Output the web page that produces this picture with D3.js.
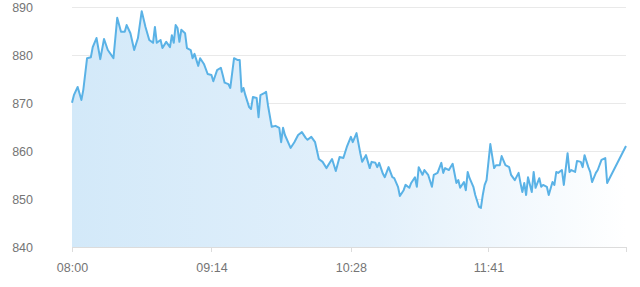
<!DOCTYPE html>
<html lang="en">
<head>
	<meta charset="UTF-8">
	<title>Intraday</title>
	<style>
		body { margin: 0; background: #fff; }
		.Axis text {
			font-family: "Liberation Sans", Arial, sans-serif;
			font-size: 12.5px;
			fill: #757575;
		}
		.Axis.y path { display: none; }
		.Axis.y line { stroke: #e9e9e9; shape-rendering: crispEdges; }
		.Axis.x path, .Axis.x line { stroke: #dcdcdc; shape-rendering: crispEdges; }
	</style>
	<script src="https://d3js.org/d3.v7.min.js"></script>
</head>
<body>
	<script type="text/javascript">

		// minutes after 08:00
		var minutes = [0, 1, 3, 5, 6, 8, 10, 11, 13, 15, 17, 19, 22, 24, 26, 28, 29, 31, 33, 35,
			37, 39, 41, 43, 44, 45, 47, 48, 50, 52, 53, 54, 55, 56, 57, 58, 60, 61, 63, 64,
			65, 67, 68, 70, 72, 74, 75, 77, 79, 80, 81, 83, 84, 86, 88, 89, 90, 91, 92, 94,
			95, 96, 98, 99, 100, 102, 103, 104, 106, 108, 110, 111, 112, 113, 116, 118, 120, 122, 124, 125,
			127, 129, 131, 133, 135, 138, 140, 142, 144, 146, 148, 149, 151, 153, 154, 156, 158, 159, 161, 162,
			163, 165, 166, 168, 170, 171, 173, 174, 176, 177, 179, 180, 182, 183, 184, 186, 187, 189, 191, 192,
			194, 196, 197, 198, 200, 202, 204, 205, 206, 208, 209, 210, 211, 213, 214, 216, 217, 218, 219, 220,
			222, 224, 225, 227, 228, 230, 232, 233, 235, 237, 238, 239, 240, 241, 242, 244, 245, 246, 248, 249,
			250, 252, 253, 255, 256, 257, 258, 260, 261, 263, 264, 265, 267, 268, 270, 271, 272, 274, 275, 276,
			278, 279, 281, 283, 284, 294];

		var prices = [870.1, 871.7, 873.4, 870.7, 872.8, 879.4, 879.6, 881.7, 883.6, 879.2, 883.4, 881.1, 879.4, 887.8, 884.9, 884.9, 886.3, 884.6, 881.1, 883.6,
			889.2, 885.9, 883.2, 882.6, 885.9, 882.6, 883.2, 881.5, 882.8, 881.7, 884.2, 882.6, 886.3, 885.7, 882.8, 885.3, 884.6, 881.5, 881.1, 879.4,
			880.3, 877.8, 879.4, 878.2, 876.1, 875.9, 874.6, 876.9, 877.4, 875.9, 874.3, 874.0, 873.2, 879.4, 879.0, 879.0, 872.4, 873.2, 871.7, 869.2,
			868.8, 871.3, 871.1, 867.1, 871.7, 872.1, 872.4, 869.6, 865.1, 865.3, 864.9, 861.9, 864.9, 863.4, 860.7, 861.9, 863.4, 864.0, 862.8, 862.4,
			863.0, 861.9, 858.4, 857.8, 856.5, 858.4, 855.9, 858.8, 858.6, 861.1, 863.0, 861.9, 863.8, 859.6, 857.8, 859.2, 856.5, 857.8, 857.6, 856.7,
			857.6, 855.3, 854.6, 856.7, 854.6, 854.4, 852.6, 850.7, 851.9, 853.0, 852.4, 853.4, 854.6, 852.6, 856.7, 855.1, 856.1, 855.1, 852.6, 855.1,
			855.5, 857.6, 855.5, 856.5, 856.1, 857.4, 853.4, 854.0, 852.4, 853.6, 851.9, 855.7, 854.4, 852.6, 850.9, 848.4, 848.2, 850.9, 853.0, 854.0,
			861.5, 856.5, 857.1, 857.1, 859.0, 857.1, 856.7, 855.1, 854.0, 855.5, 853.4, 851.5, 853.4, 850.9, 854.6, 851.5, 855.7, 852.4, 854.4, 852.6,
			853.0, 852.6, 850.9, 853.6, 853.0, 855.7, 855.5, 856.1, 853.0, 859.6, 855.7, 856.1, 855.7, 858.0, 857.8, 856.7, 859.2, 856.7, 855.7, 853.6,
			855.5, 856.1, 858.2, 858.6, 853.4, 861.1];

		var tickMinutes = [0, 74, 148, 221, 294];
		var tickLabels = ["08:00", "09:14", "10:28", "11:41", ""];
		var yTicks = [840, 850, 860, 870, 880, 890];

		var data = minutes.map((m, i) => [m, prices[i]]);

		const w = 640,
			  h = 287;

		const svg = d3.select("body")
			.append("svg")
			.attr("width", w)
			.attr("height", h)

		var xScale = d3.scaleLinear()
			.domain([0, 294])
			.range([72, 626]);

		var yScale = d3.scaleLinear()
			.domain([840, 890])
			.range([247.3, 7.3]);

		// gradient for the area under the line
		var grad = svg.append("defs").append("linearGradient")
			.attr("id", "fade")
			.attr("x1", "0").attr("x2", "1").attr("y1", "0").attr("y2", "0");
		grad.append("stop").attr("offset", "0").attr("stop-color", "#d3e9f9");
		grad.append("stop").attr("offset", "0.55").attr("stop-color", "#e2f0fb");
		grad.append("stop").attr("offset", "1").attr("stop-color", "#ffffff");

		// gridlines + y labels
		var yAxis = d3.axisLeft(yScale)
			.tickValues(yTicks)
			.tickSize(-(626 - 72))
			.tickPadding(39)
			.tickFormat(d3.format("d"));

		svg.append("g")
			.attr("class", "Axis y")
			.attr("transform", "translate(72,0)")
			.call(yAxis)
			.selectAll("text")
			.attr("dy", "0.34em");

		var area = d3.area()
			.x((d) => xScale(d[0]))
			.y0(yScale(840))
			.y1((d) => yScale(d[1]));

		svg.append("path")
			.datum(data)
			.attr("d", area)
			.attr("fill", "url(#fade)");

		var xAxis = d3.axisBottom(xScale)
			.tickValues(tickMinutes)
			.tickSize(5)
			.tickSizeOuter(0)
			.tickPadding(11)
			.tickFormat((d, i) => tickLabels[i]);

		svg.append("g")
			.attr("class", "Axis x")
			.attr("transform", "translate(0," + yScale(840) + ")")
			.call(xAxis);

		var line = d3.line()
			.x((d) => xScale(d[0]))
			.y((d) => yScale(d[1]));

		svg.append("path")
			.datum(data)
			.attr("d", line)
			.attr("fill", "none")
			.attr("stroke", "#5ab2e6")
			.attr("stroke-width", 2)
			.attr("stroke-linejoin", "round");

	</script>
</body>
</html>
